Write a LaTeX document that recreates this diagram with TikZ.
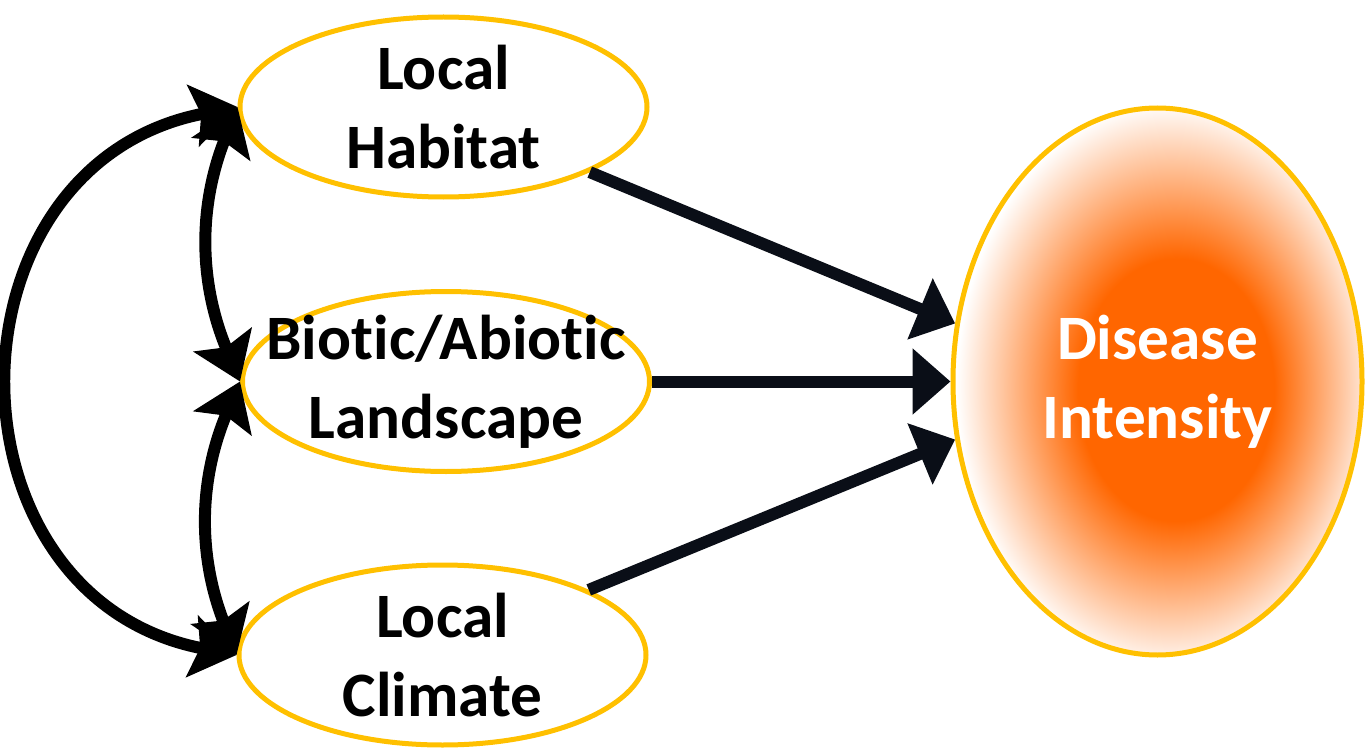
\documentclass[tikz,border=0pt]{standalone}
\usepackage{fontspec}
\setmainfont{Carlito}[Ligatures={NoCommon,NoRare,NoDiscretionary}]
\usetikzlibrary{shapes.geometric,arrows.meta}
\definecolor{ringgold}{RGB}{255,192,0}
\definecolor{hotorange}{RGB}{255,102,0}
\definecolor{arrowink}{RGB}{10,14,23}
\pgfdeclareradialshading{hotspot}{\pgfpoint{3bp}{-1bp}}{color(0bp)=(hotorange); color(12bp)=(hotorange); color(26bp)=(white); color(50bp)=(white)}

\begin{document}
\begin{tikzpicture}[
  factor/.style={ellipse,draw=ringgold,line width=0.05cm,minimum width=4.07cm,minimum height=1.8cm,inner xsep=-1cm,inner ysep=-0.6cm,align=center,font=\bfseries\fontsize{18}{22.5}\selectfont},
  effect/.style={factor,shade,shading=hotspot,text=white,minimum width=4.09cm,minimum height=5.47cm},
  flow/.style={draw=arrowink,line width=0.12cm,-{Triangle[length=0.38cm,width=0.64cm]}},
  link/.style={draw=black,line width=0.12cm,{Stealth[length=0.45cm,width=0.62cm,inset=0.08cm]}-{Stealth[length=0.45cm,width=0.62cm,inset=0.08cm]}}]
\useasboundingbox (0,0) rectangle (13.65,7.47);
\node[factor] (habitat) at (4.435,6.40) {Local\\Habitat};
\node[factor] (biotic) at (4.46,3.655) {Biotic/Abiotic\\Landscape};
\node[factor] (climate) at (4.425,0.92) {Local\\Climate};
\node[effect] (disease) at (11.575,3.655) {Disease\\Intensity};
\draw[flow] (habitat.-24) -- (disease.164);
\draw[flow] (biotic.east) -- (disease.west);
\draw[flow] (climate.24) -- (disease.196);
\draw[link] (habitat.west) to[bend right=22] (biotic.west);
\draw[link] (biotic.west) to[bend right=22] (climate.west);
\draw[link] (habitat.west) to[out=191,in=169,looseness=1.42] (climate.west);
\end{tikzpicture}
\end{document}
